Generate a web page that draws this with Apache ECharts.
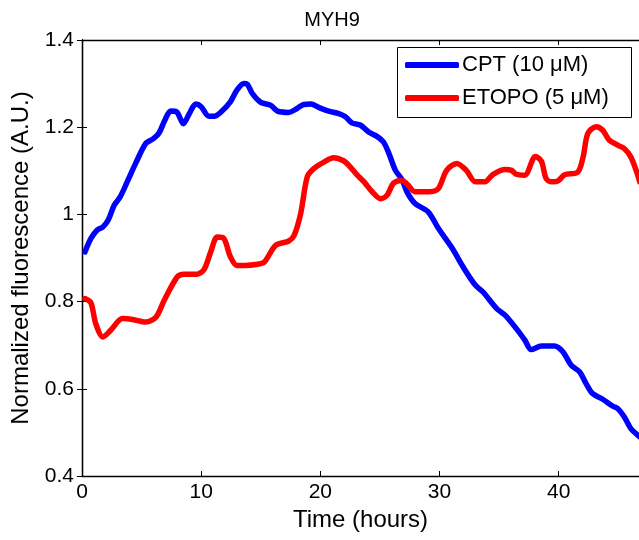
<!DOCTYPE html>
<html>
<head>
<meta charset="utf-8">
<script src="https://cdn.jsdelivr.net/npm/echarts@6/dist/echarts.min.js"></script>
<style>
html,body{margin:0;padding:0;background:#fff;}
#chart{width:639px;height:540px;}
</style>
</head>
<body>
<div id="chart"></div>
<script>
var chartTitle = 'MYH9';
var xAxisName = 'Time (hours)';
var yAxisName = 'Normalized fluorescence (A.U.)';
var seriesNames = ['CPT (10 \u03BCM)', 'ETOPO (5 \u03BCM)'];
var xTicks = [0, 10, 20, 30, 40];
var yTicks = [0.4, 0.6, 0.8, 1, 1.2, 1.4];

var cptTime = [0.25,0.75,1.3,1.75,2.2,2.7,3.2,3.8,4.5,5.35,5.9,6.45,6.95,7.45,7.95,8.5,9.0,9.55,10.0,10.65,11.1,11.6,12.45,13.0,13.6,13.85,14.3,15.0,15.85,16.4,17.35,18.05,18.6,19.2,19.9,20.7,21.55,22.1,22.65,23.35,24.05,24.75,25.3,25.75,26.3,26.85,27.3,27.95,29.05,29.9,31.0,32.15,33.0,33.65,34.8,35.5,36.45,37.15,37.7,38.55,39.65,40.35,41.05,41.75,42.3,42.85,43.7,44.55,44.95,45.5,46.05,46.5,46.8];
var cptValue = [0.914,0.945,0.965,0.971,0.987,1.021,1.040,1.075,1.117,1.163,1.172,1.186,1.216,1.237,1.235,1.208,1.231,1.253,1.247,1.225,1.225,1.233,1.258,1.285,1.300,1.299,1.277,1.257,1.250,1.237,1.234,1.243,1.252,1.253,1.245,1.237,1.231,1.224,1.210,1.205,1.189,1.179,1.166,1.140,1.101,1.080,1.050,1.025,1.006,0.968,0.925,0.872,0.838,0.822,0.784,0.769,0.738,0.712,0.690,0.698,0.698,0.685,0.654,0.639,0.612,0.589,0.576,0.560,0.555,0.536,0.509,0.497,0.490];

var etopoTime = [0.25,0.75,1.15,1.75,2.4,3.4,4.25,5.35,6.2,6.9,8.0,8.55,9.65,10.25,10.8,11.35,11.9,12.45,13.0,13.7,14.6,15.3,16.25,17.35,17.8,18.35,18.9,19.45,20.3,21.1,21.95,22.5,23.1,23.65,24.35,25.05,25.6,26.15,26.85,27.3,27.95,29.2,29.9,30.6,31.45,32.25,33.0,33.8,34.5,35.5,36.05,36.45,37.15,38.05,38.55,38.95,39.4,39.95,40.5,41.6,42.05,42.45,43.15,43.7,44.25,44.95,45.5,46.05,46.5,46.8];
var etopoValue = [0.807,0.797,0.750,0.719,0.734,0.761,0.759,0.753,0.764,0.803,0.857,0.863,0.863,0.874,0.914,0.948,0.945,0.903,0.883,0.883,0.885,0.891,0.929,0.939,0.952,1.002,1.086,1.105,1.120,1.130,1.123,1.109,1.090,1.075,1.052,1.036,1.044,1.072,1.078,1.069,1.052,1.052,1.059,1.101,1.117,1.101,1.075,1.075,1.092,1.103,1.101,1.092,1.090,1.133,1.122,1.082,1.075,1.077,1.091,1.097,1.132,1.186,1.201,1.193,1.170,1.159,1.151,1.132,1.101,1.075];

function pairs(t, v) {
  var out = [];
  for (var i = 0; i < t.length; i++) out.push([t[i], v[i]]);
  return out;
}

var FONT = "'Liberation Sans', Arial, Helvetica, sans-serif";
var xMin = xTicks[0], xMax = 46.74, xStep = xTicks[1] - xTicks[0];
var yMin = yTicks[0], yMax = yTicks[yTicks.length - 1], yStep = 0.2;

var chart = echarts.init(document.getElementById('chart'), null, {renderer: 'canvas'});

var axisLineStyle = {lineStyle: {color: '#000', width: 1.3}};
var tickStyle = {show: true, inside: true, length: 5, lineStyle: {color: '#000', width: 1}};

chart.setOption({
  animation: false,
  backgroundColor: '#fff',
  title: {
    text: chartTitle,
    left: 327, top: 5, textAlign: 'center',
    textStyle: {fontFamily: FONT, fontSize: 20, fontWeight: 'normal', color: '#000'}
  },
  graphic: [{
    type: 'rect', z: 3,
    shape: {x: 397.5, y: 47.5, width: 234, height: 70},
    style: {fill: '#fff', stroke: '#000', lineWidth: 1}
  }],
  legend: {
    orient: 'vertical',
    left: 397, top: 47,
    padding: [6, 8, 6, 8],
    itemGap: 9,
    itemWidth: 54, itemHeight: 6,
    icon: 'roundRect',
    z: 4,
    textStyle: {fontFamily: FONT, fontSize: 22, color: '#000', lineHeight: 24, padding: [0, 0, 0, -2]},
    data: seriesNames
  },
  grid: {left: 82, top: 40, right: -2, bottom: 64, containLabel: false},
  xAxis: [{
    type: 'value', min: xMin, max: xMax, interval: xStep,
    position: 'bottom',
    name: xAxisName, nameLocation: 'middle', nameGap: 32,
    nameTextStyle: {fontFamily: FONT, fontSize: 24, color: '#000'},
    axisLine: axisLineStyle, axisTick: tickStyle,
    axisLabel: {fontFamily: FONT, fontSize: 21, color: '#000', margin: 6, showMaxLabel: false},
    splitLine: {show: false}
  }, {
    type: 'value', min: xMin, max: xMax, interval: xStep,
    position: 'top',
    axisLine: axisLineStyle, axisTick: tickStyle,
    axisLabel: {show: false}, splitLine: {show: false}
  }],
  yAxis: [{
    type: 'value', min: yMin, max: yMax, interval: yStep,
    position: 'left',
    name: yAxisName, nameLocation: 'middle', nameGap: 49, nameRotate: 90,
    nameTextStyle: {fontFamily: FONT, fontSize: 24, color: '#000'},
    axisLine: axisLineStyle, axisTick: tickStyle,
    axisLabel: {fontFamily: FONT, fontSize: 21, color: '#000', margin: 8,
      formatter: function (v) { return String(Math.round(v * 10) / 10); }},
    splitLine: {show: false}
  }, {
    type: 'value', min: yMin, max: yMax, interval: yStep,
    position: 'right',
    axisLine: axisLineStyle, axisTick: tickStyle,
    axisLabel: {show: false}, splitLine: {show: false}
  }],
  series: [{
    name: seriesNames[0], type: 'line',
    data: pairs(cptTime, cptValue),
    showSymbol: false, symbol: 'none', smooth: 0.3, clip: true,
    itemStyle: {color: '#0000ff'},
    lineStyle: {color: '#0000ff', width: 5.5, cap: 'round', join: 'round'}
  }, {
    name: seriesNames[1], type: 'line',
    data: pairs(etopoTime, etopoValue),
    showSymbol: false, symbol: 'none', smooth: 0.3, clip: true,
    itemStyle: {color: '#ff0000'},
    lineStyle: {color: '#ff0000', width: 5.5, cap: 'round', join: 'round'}
  }]
});
</script>
</body>
</html>
